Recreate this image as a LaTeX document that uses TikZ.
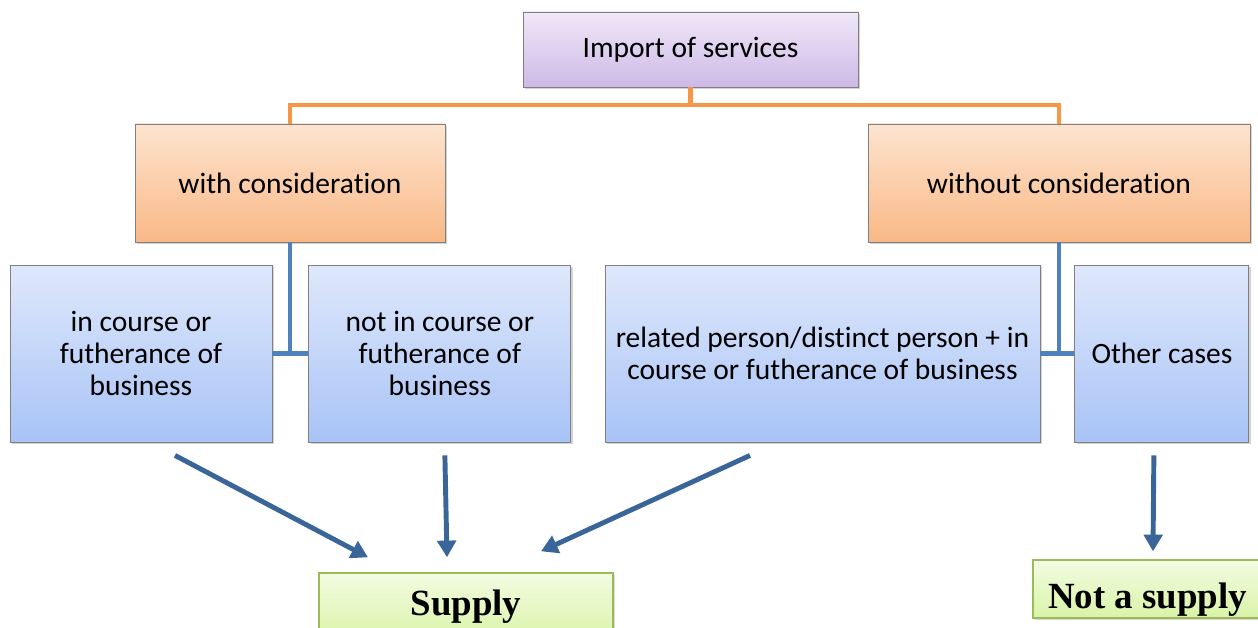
\documentclass[tikz,border=0pt]{standalone}
\usepackage{fontspec}
\setmainfont[Ligatures=NoCommon]{Carlito}
\newfontfamily\resultfont{Liberation Serif}
\usetikzlibrary{positioning,arrows.meta,shadows}

\definecolor{purpleTop}{HTML}{F0E8F8}
\definecolor{purpleBot}{HTML}{CDB9E6}
\definecolor{orangeTop}{HTML}{FDE4CF}
\definecolor{orangeBot}{HTML}{F9B886}
\definecolor{blueTop}{HTML}{DFE8FB}
\definecolor{blueBot}{HTML}{A8C3F6}
\definecolor{greenTop}{HTML}{F3FBE2}
\definecolor{greenBot}{HTML}{D9F4A8}
\definecolor{greenLine}{HTML}{9BBB59}
\definecolor{orangeLine}{HTML}{F79646}
\definecolor{blueLine}{HTML}{4F81BD}
\definecolor{arrowBlue}{HTML}{3A6599}

\tikzstyle{box} = [rectangle, draw=black!50, line width=0.5pt, text centered, align=center, font=\fontsize{16.8}{18}\selectfont, drop shadow={shadow xshift=1.2pt, shadow yshift=-1.2pt, opacity=0.35}]
\tikzstyle{topbox} = [box, top color=purpleTop, bottom color=purpleBot, minimum width=6.7cm, minimum height=1.5cm]
\tikzstyle{casebox} = [box, top color=orangeTop, bottom color=orangeBot, minimum height=2.36cm]
\tikzstyle{subbox} = [box, top color=blueTop, bottom color=blueBot, minimum height=3.54cm]
\tikzstyle{result} = [rectangle, draw=greenLine, line width=0.8pt, top color=greenTop, bottom color=greenBot, text centered, font=\resultfont\bfseries\fontsize{21}{24}\selectfont, drop shadow={shadow xshift=1pt, shadow yshift=-1pt, opacity=0.3}]

\begin{document}
\begin{tikzpicture}[>={Triangle[width=10.5pt,length=9.5pt]}]
\useasboundingbox (0,0) rectangle (25.16,-12.56);

\node[topbox] (Import) at (13.81,-0.99) {Import of services};

\node[casebox, minimum width=6.2cm] (With) at (5.8,-3.66) {with consideration};
\node[casebox, minimum width=7.64cm] (Without) at (21.18,-3.66) {without consideration};

\node[subbox, minimum width=5.24cm] (InCourse) at (2.82,-7.07) {in course or\\futherance of\\business};
\node[subbox, minimum width=5.24cm] (NotInCourse) [right=0.72cm of InCourse] {not in course or\\futherance of\\business};
\node[subbox, minimum width=8.7cm] (Related) at (16.45,-7.07) {related person/distinct person + in\\course or futherance of business};
\node[subbox, minimum width=3.48cm] (Other) [right=0.68cm of Related] {Other cases};

\node[result, minimum width=5.88cm, minimum height=1.36cm] (Supply) at (9.32,-12.14) {Supply};
\node[result, minimum width=4.58cm, minimum height=1.16cm] (NotSupply) at (22.95,-11.78) {\raisebox{-6pt}[\height][\depth]{Not a supply}};

% tree lines
\draw[orangeLine, line width=2.3pt] (Import.south) -- ++(0,-0.36) -| (With.north);
\draw[orangeLine, line width=2.3pt] (Import.south) -- ++(0,-0.36) -| (Without.north);
\draw[blueLine, line width=2.6pt] (With.south) -- (With.south |- InCourse.east);
\draw[blueLine, line width=2.6pt] (InCourse.east) -- (NotInCourse.west);
\draw[blueLine, line width=2.6pt] (Without.south) -- (Without.south |- Related.east);
\draw[blueLine, line width=2.6pt] (Related.east) -- (Other.west);

% outcomes
\draw[->, arrowBlue, line width=2.8pt] ([xshift=0.68cm, yshift=-0.26cm]InCourse.south) -- ([xshift=-1.96cm, yshift=0.3cm]Supply.north);
\draw[->, arrowBlue, line width=2.8pt] ([xshift=0.1cm, yshift=-0.26cm]NotInCourse.south) -- ([xshift=-0.38cm, yshift=0.3cm]Supply.north);
\draw[->, arrowBlue, line width=2.8pt] ([xshift=-1.45cm, yshift=-0.26cm]Related.south) -- ([xshift=1.5cm, yshift=0.42cm]Supply.north);
\draw[->, arrowBlue, line width=2.8pt] ([xshift=-0.16cm, yshift=-0.26cm]Other.south) -- ([xshift=0.11cm, yshift=0.16cm]NotSupply.north);

\end{tikzpicture}
\end{document}
